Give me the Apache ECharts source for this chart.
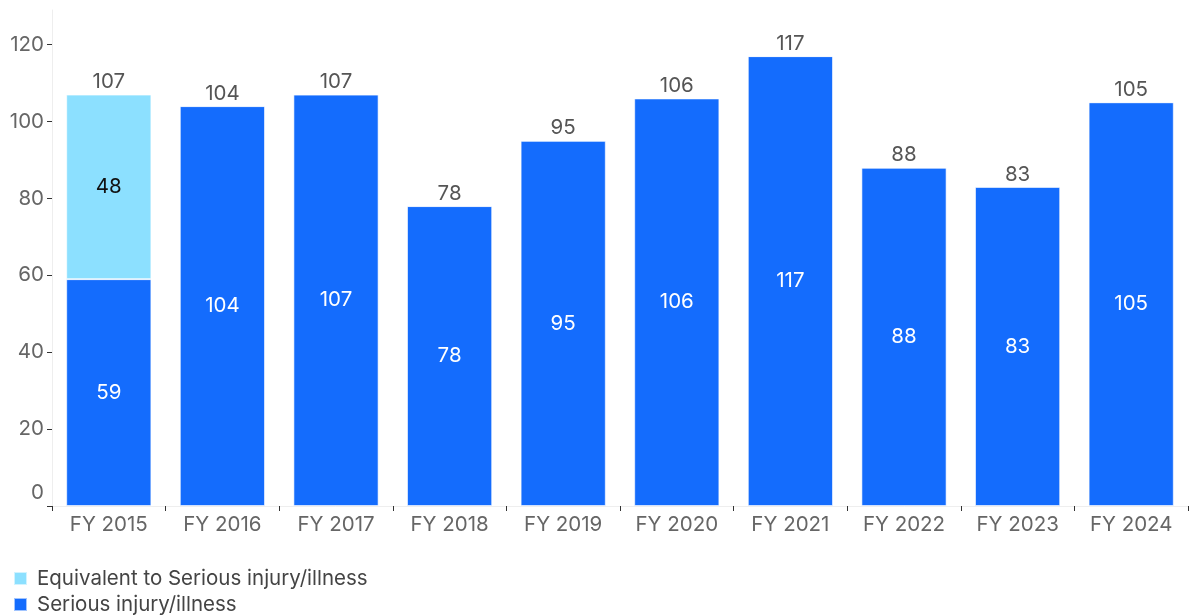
<!DOCTYPE html>
<html><head><meta charset="utf-8">
<script src="https://cdn.jsdelivr.net/npm/echarts@6/dist/echarts.min.js"></script>
<style>html,body{margin:0;padding:0;background:#fff}#c{width:1192px;height:616px}</style>
</head><body><div id="c"></div>
<script>
const categories = ['FY 2015','FY 2016','FY 2017','FY 2018','FY 2019','FY 2020','FY 2021','FY 2022','FY 2023','FY 2024'];
const serious = [59,104,107,78,95,106,117,88,83,105];
const equivalent = [48,0,0,0,0,0,0,0,0,0];
const yTicks = [0,20,40,60,80,100,120];
const legendNames = ['Equivalent to Serious injury/illness','Serious injury/illness'];
const totals = serious.map((v,i)=>v+equivalent[i]);
const FONT = 'Inter';
const FS = 20.5;
const legendBase = {
  orient:'vertical',left:13,padding:0,itemWidth:13,itemHeight:13,icon:'rect',
  textStyle:{fontFamily:FONT,fontSize:20.5,lineHeight:20,color:'#444',padding:[0,0,0,5]}
};
const chart = echarts.init(document.getElementById('c'));
chart.setOption({
  animation:false,
  textStyle:{fontFamily:FONT},
  grid:{left:52,right:4,top:10,bottom:110,containLabel:false},
  legend:[
    Object.assign({},legendBase,{top:568,data:[legendNames[0]]}),
    Object.assign({},legendBase,{top:594,data:[legendNames[1]]})
  ],
  xAxis:{
    type:'category',data:categories,
    axisLine:{lineStyle:{color:'#eeeeee',width:1}},
    axisTick:{show:true,alignWithLabel:false,length:5,lineStyle:{color:'#333'}},
    axisLabel:{fontFamily:FONT,fontSize:FS,color:'#666',margin:8}
  },
  yAxis:{
    type:'value',min:0,max:129,interval:20,
    splitLine:{show:false},
    axisLine:{show:true,lineStyle:{color:'#eeeeee',width:1}},
    axisTick:{show:true,length:5,lineStyle:{color:'#333'},customValues:yTicks},
    axisLabel:{fontFamily:FONT,fontSize:FS,color:'#666',margin:8,customValues:yTicks,
      formatter:function(v){return v===0?'{z|0}':String(v);},
      rich:{z:{fontFamily:FONT,fontSize:FS,color:'#666',padding:[0,0,26,0]}}}
  },
  series:[
    {name:legendNames[1],type:'bar',stack:'a',barWidth:'75%',data:serious,
     itemStyle:{color:'#146CFD',borderColor:'rgba(255,255,255,0.6)',borderWidth:1},
     label:{show:true,position:'inside',color:'#fff',fontFamily:FONT,fontSize:FS}},
    {name:legendNames[0],type:'bar',stack:'a',barWidth:'75%',data:equivalent,
     itemStyle:{color:'#8CE0FF',borderColor:'rgba(255,255,255,0.6)',borderWidth:1},
     label:{show:true,position:'inside',color:'#111',fontFamily:FONT,fontSize:FS,
       formatter:p=>p.value>0?String(p.value):''}},
    {name:'Total',type:'bar',stack:'a',barWidth:'75%',data:totals.map(()=>0),
     itemStyle:{color:'transparent'},silent:true,
     label:{show:true,position:'top',distance:2,color:'#555',fontFamily:FONT,fontSize:FS,
       formatter:p=>String(totals[p.dataIndex])}}
  ]
});
</script></body></html>
